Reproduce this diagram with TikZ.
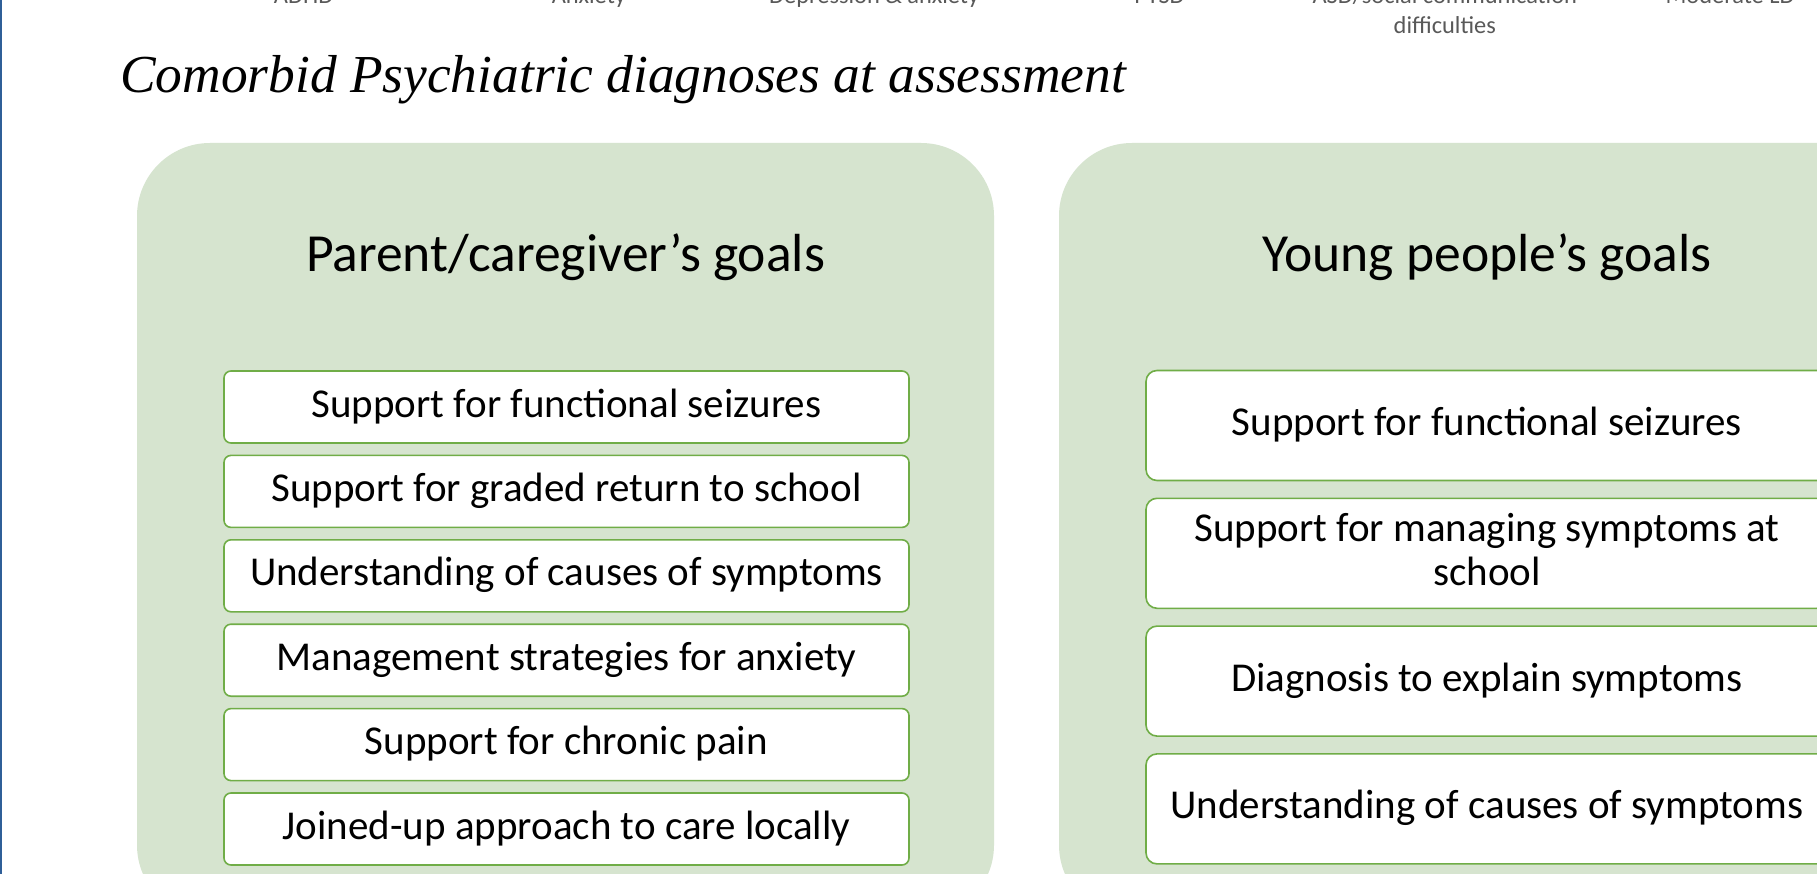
\documentclass[tikz,border=0pt]{standalone}
\usepackage{fontspec}
\setmainfont{Carlito}
\newfontfamily\titlefont{Liberation Serif}
\definecolor{boxgreen}{HTML}{D6E4CF}
\definecolor{edgegreen}{HTML}{70AD47}
\definecolor{axisgray}{HTML}{595959}
\definecolor{leftblue}{HTML}{2F5F98}
\newcommand\lstrut{\rule[-10pt]{0pt}{40pt}}
\begin{document}
\begin{tikzpicture}[x=1pt,y=-1pt,
  panel/.style={fill=boxgreen, draw=none, rounded corners=73pt, inner sep=0pt},
  goalL/.style={draw=edgegreen, line width=1.6pt, fill=white, rounded corners=7pt,
    minimum width=685pt, minimum height=72pt, inner sep=0pt, align=center,
    font=\fontsize{41}{44}\selectfont},
  goalR/.style={goalL, rounded corners=11pt, minimum width=682pt, minimum height=110pt},
  header/.style={anchor=base, inner sep=0pt, font=\fontsize{53.6}{60}\selectfont},
  axislabel/.style={anchor=base, inner sep=0pt, text=axisgray, font=\fontsize{24.4}{29.8}\selectfont}
]
\clip (0,0) rectangle (1817,874);
\fill[white] (0,0) rectangle (1817,874);
\fill[leftblue] (0,0) rectangle (2,874);

% truncated chart axis labels at the top
\node[axislabel] (c1) at (303.6,4) {ADHD};
\node[axislabel] (c2) at (588.9,4) {Anxiety};
\node[axislabel] (c3) at (874.2,4) {Depression \& anxiety};
\node[axislabel] (c4) at (1159.5,4) {PTSD};
\node[axislabel] (c5) at (1444.8,4) {ASD/social communication};
\node[axislabel] (c5b) at (1444.8,33.8) {difficulties};
\node[axislabel] (c6) at (1730.1,4) {Moderate LD};

% title
\node[anchor=base west, inner sep=0pt, font=\titlefont\itshape\fontsize{53.4}{60}\selectfont]
  (title) at (120,93) {Comorbid Psychiatric diagnoses at assessment};

% panels
\node[panel, minimum width=857pt, minimum height=775pt] (leftpanel) at (565.5,530.5) {};
\node[panel, minimum width=856pt, minimum height=775pt] (rightpanel) at (1487,530.5) {};

\node[header] (lhead) at (565.5,272) {Parent/caregiver’s goals};
\node[header] (rhead) at (1487,272) {Young people’s goals};

% parent goals
\node[goalL] (p1) at (566.5,407.0) {\lstrut Support for functional seizures};
\node[goalL] (p2) at (566.5,491.4) {\lstrut Support for graded return to school};
\node[goalL] (p3) at (566.5,575.8) {\lstrut Understanding of causes of symptoms};
\node[goalL] (p4) at (566.5,660.2) {\lstrut Management strategies for anxiety};
\node[goalL] (p5) at (566.5,744.6) {\lstrut Support for chronic pain};
\node[goalL] (p6) at (566.5,829.0) {\lstrut Joined-up approach to care locally};

% young people goals
\node[goalR] (y1) at (1487,425.5) {\lstrut Support for functional seizures};
\node[goalR] (y2) at (1487,553.3) {\lstrut Support for managing symptoms at\\\lstrut school};
\node[goalR] (y3) at (1487,681.1) {\lstrut Diagnosis to explain symptoms};
\node[goalR] (y4) at (1487,808.9) {\lstrut Understanding of causes of symptoms};
\end{tikzpicture}
\end{document}
